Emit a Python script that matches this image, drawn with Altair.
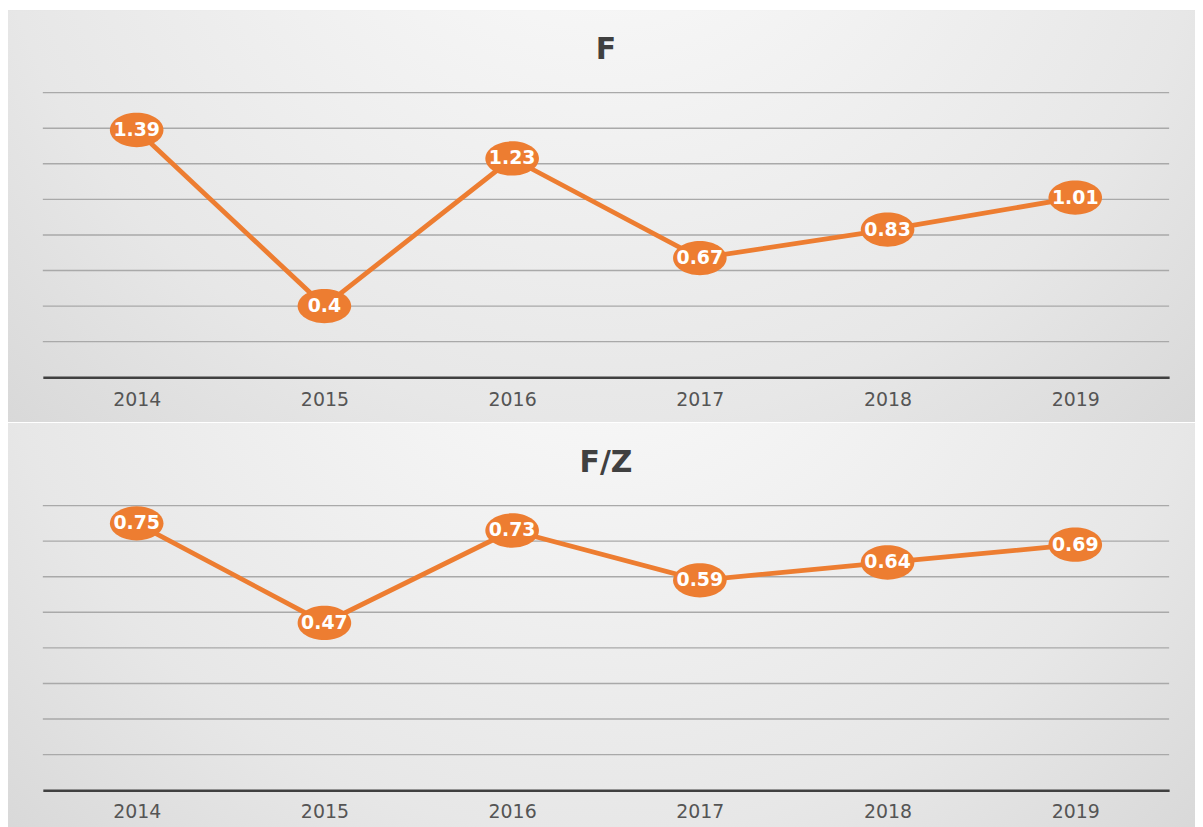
import altair as alt
import pandas as pd

years = ["2014", "2015", "2016", "2017", "2018", "2019"]
f_values = [1.39, 0.4, 1.23, 0.67, 0.83, 1.01]
fz_values = [0.75, 0.47, 0.73, 0.59, 0.64, 0.69]
f_labels = ["1.39", "0.4", "1.23", "0.67", "0.83", "1.01"]
fz_labels = ["0.75", "0.47", "0.73", "0.59", "0.64", "0.69"]
f_grid = [0.2, 0.4, 0.6, 0.8, 1.0, 1.2, 1.4, 1.6]
fz_grid = [0.1, 0.2, 0.3, 0.4, 0.5, 0.6, 0.7, 0.8]

W = 1132
H = 286
ORANGE = "#ED7D31"
ELLIPSE = "M -1 0 A 1 0.64 0 1 0 1 0 A 1 0.64 0 1 0 -1 0 Z"

GRADIENT = {
    "gradient": "radial",
    "stops": [
        {"offset": 0, "color": "#fdfdfd"},
        {"offset": 0.55, "color": "#e7e7e7"},
        {"offset": 1, "color": "#c8c8c8"},
    ],
    "x1": 0.5, "y1": 0.15, "r1": 0,
    "x2": 0.5, "y2": 0.15, "r2": 0.95,
}


def panel(values, labels, grid, title, ymax):
    df = pd.DataFrame({"year": years, "value": values, "label": labels})
    gdf = pd.DataFrame({"g": grid})
    one = pd.DataFrame({"t": [title]})

    xscale = alt.Scale(type="point", padding=0.5)
    yscale = alt.Scale(domain=[0, ymax], nice=False, zero=True)

    bg = alt.Chart(one).mark_rect(fill=GRADIENT, stroke=None).encode(
        x=alt.value(-35), x2=alt.value(W + 26),
        y=alt.value(-83), y2=alt.value(H + 45),
    )
    rules = alt.Chart(gdf).mark_rule(color="#a9a9a9", strokeWidth=1.4).encode(
        y=alt.Y("g:Q", scale=yscale, axis=None)
    )
    ttl = alt.Chart(one).mark_text(
        font="DejaVu Sans", fontSize=30, fontWeight="bold", color="#404040",
        baseline="middle", align="center",
    ).encode(x=alt.value(W / 2), y=alt.value(-43), text="t:N")

    x_enc = alt.X(
        "year:N", scale=xscale, sort=years,
        axis=alt.Axis(
            title=None, labelAngle=0, ticks=False, grid=False,
            domainColor="#404040", domainWidth=2.5,
            labelFont="DejaVu Sans", labelFontSize=19, labelColor="#555555",
            labelPadding=13, zindex=1,
        ),
    )
    y_enc = alt.Y("value:Q", scale=yscale, axis=None)

    line = alt.Chart(df).mark_line(color=ORANGE, strokeWidth=4.8).encode(x=x_enc, y=y_enc)
    pts = alt.Chart(df).mark_point(
        shape=ELLIPSE, filled=True, size=2900, color=ORANGE, opacity=1
    ).encode(x=x_enc, y=y_enc)
    txt = alt.Chart(df).mark_text(
        font="DejaVu Sans", fontSize=19, fontWeight="bold", color="white",
        baseline="middle", align="center",
    ).encode(x=x_enc, y=y_enc, text="label:N")

    return alt.layer(bg, rules, ttl, line, pts, txt).properties(width=W, height=H)


top = panel(f_values, f_labels, f_grid, "F", 1.6)
bottom = panel(fz_values, fz_labels, fz_grid, "F/Z", 0.8)

chart = alt.vconcat(top, bottom, spacing=1).configure(padding=0).configure_view(stroke=None)

chart.save("out.html", embed_options={"renderer": "svg", "actions": False})
